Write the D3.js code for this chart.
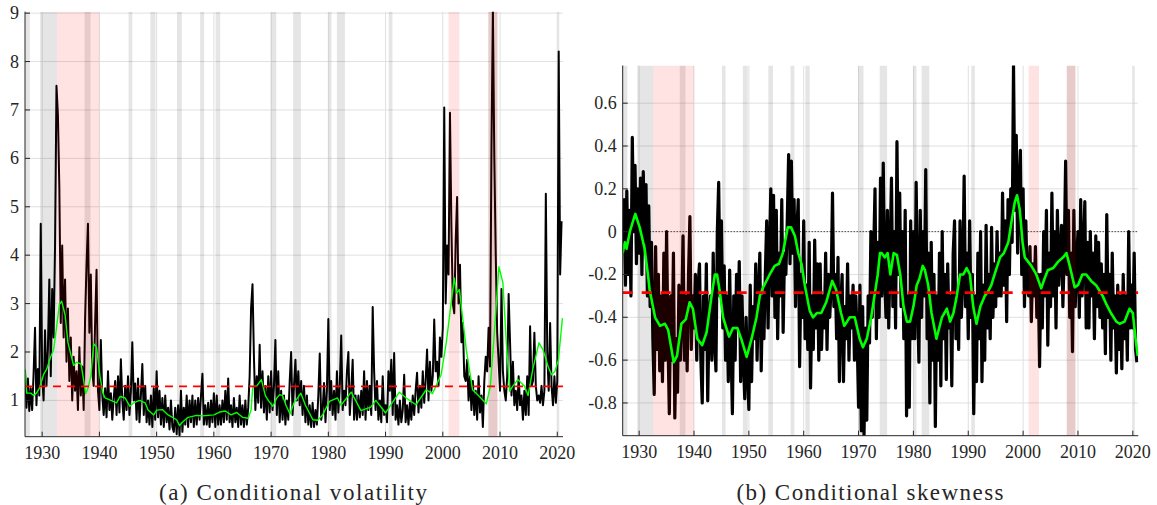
<!DOCTYPE html>
<html>
<head>
<meta charset="utf-8">
<script src="https://cdn.jsdelivr.net/npm/d3@7"></script>
<style>
  body { margin: 0; background: #fff; }
  svg text { font-family: "Liberation Serif", "DejaVu Serif", serif; fill: #262626; }
</style>
</head>
<body>
<div id="chart"></div>
<script>
// ---- data (quarterly values, first value = 1927 Q1) ----
var firstYear = 1927;
var step = 0.25;

// conditional volatility, black line
var volatility = [
  1.62, 0.85, 1.45, 0.78,   1.25, 0.8, 1.55, 2.5,    0.9, 1.65, 1.1, 4.65,
  1.5, 1.0, 2.45, 1.3,      2.05, 3.5, 1.5, 3.3,     2.3, 4.2, 7.5, 6.9,
  5.4, 2.6, 4.2, 2.3,       3.5, 1.8, 2.9, 1.4,      2.3, 1.0, 1.9, 1.2,
  1.6, 0.8, 2.1, 1.1,       1.7, 0.8, 2.7, 3.8,      4.65, 2.4, 3.6, 1.6,
  1.3, 2.6, 3.7, 1.2,       // 1939
  0.8, 2.25, 1.1, 0.7,      1.25, 0.65, 1.6, 0.8,    1.15, 0.6, 1.05, 1.4,
  0.7, 1.5, 0.75, 1.85,     1.0, 0.6, 1.3, 0.8,      1.5, 0.7, 1.2, 2.2,
  1.0, 1.35, 0.6, 1.45,     0.55, 1.1, 1.75, 0.7,    1.3, 0.55, 1.0, 0.5,
  1.1, 0.45, 1.25, 0.6,     // 1949
  1.6, 0.65, 1.2, 0.5,      1.05, 0.45, 1.1, 0.55,   0.85, 0.4, 1.0, 0.45,
  0.35, 0.85, 0.3, 0.9,     0.28, 1.2, 0.35, 0.85,   0.5, 1.1, 0.45, 1.0,
  0.55, 1.1, 0.45, 1.0,     0.5, 1.05, 0.6, 1.1,     1.55, 0.5, 0.9, 0.5,
  0.95, 0.45, 1.0, 0.55,    // 1959
  1.15, 0.45, 1.1, 0.5,     0.9, 0.5, 1.0, 0.55,     1.2, 0.6, 1.45, 0.55,
  0.9, 0.45, 1.05, 0.55,    0.85, 0.45, 1.1, 0.5,    0.9, 0.45, 1.0, 0.5,
  0.85, 1.5, 2.9, 3.4,      1.9, 0.8, 1.5, 0.95,     2.15, 0.85, 1.6, 0.75,
  1.3, 0.6, 1.5, 0.75,      // 1969
  1.6, 0.8, 1.3, 2.25,      0.7, 1.6, 0.55, 1.2,     0.6, 1.1, 0.5, 1.0,
  0.6, 1.4, 2.0, 0.7,       1.3, 1.84, 1.0, 1.6,     0.9, 1.4, 0.7, 1.3,
  0.55, 1.1, 0.5, 0.9,      0.45, 0.95, 0.45, 0.8,   0.5, 1.1, 1.97, 0.6,
  0.8, 1.36, 0.55, 1.2,     // 1979
  2.68, 0.8, 1.4, 0.7,      1.2, 0.6, 1.6, 0.75,     1.3, 2.34, 0.8, 1.2,
  0.9, 1.6, 2.0, 0.7,       1.2, 1.84, 0.6, 1.1,     0.6, 1.1, 0.65, 1.2,
  0.7, 1.6, 0.6, 1.4,       0.8, 1.3, 0.7, 2.93,     1.6, 0.8, 1.4, 0.6,
  1.0, 0.55, 1.5, 0.7,      // 1989
  0.9, 0.55, 1.6, 1.2,      1.84, 0.7, 1.98, 0.6,    0.9, 0.5, 1.0, 0.55,
  0.8, 1.53, 0.55, 0.9,     0.5, 0.95, 0.6, 1.1,     0.7, 1.2, 1.57, 0.75,
  1.3, 0.85, 1.6, 0.95,     1.4, 2.05, 1.0, 1.8,     1.2, 1.5, 2.67, 1.6,
  1.8, 1.3, 2.3, 1.9,       // 1999
  2.5, 7.05, 3.0, 4.2,      3.6, 6.94, 4.6, 3.0,     2.8, 4.3, 5.2, 3.0,
  3.8, 2.2, 2.6, 1.5,       1.4, 1.84, 1.0, 1.5,     0.8, 1.4, 0.7, 1.2,
  0.6, 1.5, 0.75, 1.1,      0.45, 1.4, 1.9, 1.6,     2.5, 1.7, 6.2, 9.05,
  6.0, 4.0, 2.4, 1.8,       // 2009
  1.2, 3.3, 1.6, 1.2,       1.0, 1.5, 3.2, 2.2,      1.1, 1.8, 0.9, 1.2,
  0.8, 1.5, 0.9, 1.1,       0.6, 1.2, 0.7, 1.5,      0.7, 2.53, 1.3, 1.4,
  2.4, 1.3, 1.0, 1.1,       0.95, 1.3, 0.9, 1.2,     5.27, 2.0, 1.2, 2.6,
  1.3, 0.9, 1.5, 0.95,      1.4, 8.21, 3.6, 4.7
];

// conditional skewness, black line
var skewness = [
  -0.1, 0.15, -0.25, 0.19,   -0.2, 0.1, -0.3, 0.44,    0.0, 0.31, -0.15, 0.2,
  -0.1, 0.25, -0.2, 0.28,    -0.05, 0.22, -0.3, 0.12,  -0.35, -0.05, -0.5, -0.76,
  -0.07, -0.55, -0.2, -0.65, -0.3, -0.7, -0.1, -0.6,   0.0, -0.5, -0.85, -0.3,
  -0.6, -0.1, -0.87, -0.5,   -0.75, -0.25, -0.6, -0.4, -0.02, -0.6, -0.3, -0.65,
  -0.2, 0.07, -0.55, -0.3,   // 1939
  -0.45, -0.2, -0.6, -0.25,  -0.15, -0.6, -0.8, -0.3,  -0.55, -0.15, -0.79, -0.4,
  -0.3, -0.6, -0.1, -0.5,    -0.65, 0.0, 0.23, -0.3,   0.05, -0.45, -0.16, -0.6,
  -0.3, -0.7, -0.18, -0.55,  -0.85, -0.3, -0.6, -0.2,  -0.45, -0.14, -0.7, -0.3,
  -0.6, -0.78, -0.4, -0.65,  // 1949
  -0.83, -0.25, -0.7, -0.35, -0.5, -0.15, -0.6, -0.3,  -0.1, -0.65, -0.3, -0.5,
  -0.2, 0.05, -0.45, -0.1,   0.2, -0.3, 0.17, -0.4,    0.1, -0.5, -0.1, -0.3,
  0.15, -0.47, -0.1, -0.2,   0.05, 0.36, -0.15, 0.33,  -0.1, 0.15, -0.35, 0.0,
  0.15, -0.63, -0.2, -0.4,   // 1959
  0.05, -0.5, -0.25, -0.55,  -0.05, -0.73, -0.3, -0.55, -0.04, -0.45, -0.15, -0.6,
  -0.15, -0.55, -0.3, -0.45, -0.1, -0.55, -0.2, -0.4,  -0.25, 0.18, -0.35, -0.2,
  -0.5, -0.12, -0.7, -0.35,  -0.2, -0.7, -0.35, -0.5,  -0.15, -0.6, -0.3, -0.45,
  -0.25, -0.6, -0.3, -0.5,   // 1969
  -0.82, -0.25, -0.93, -0.35, -0.95, -0.45, -0.88, -0.3, -0.52, 0.0, -0.4, -0.1,
  0.2, -0.5, -0.05, -0.4,    0.25, -0.3, 0.32, -0.2,   -0.4, 0.1, -0.45, -0.1,
  0.25, -0.35, 0.0, -0.45,   0.42, -0.2, 0.18, -0.35,  0.0, -0.5, 0.1, -0.86,
  -0.3, -0.82, 0.05, -0.5,   // 1979
  0.0, -0.5, 0.23, -0.3,     -0.61, 0.1, -0.4, 0.0,    -0.3, 0.29, -0.5, -0.1,
  -0.8, -0.05, -0.6, -0.2,   -0.91, -0.3, -0.6, -0.1,  -0.72, 0.0, -0.5, -0.2,
  -0.69, -0.15, -0.45, -0.3, -0.72, -0.1, 0.05, -0.5,  -0.3, -0.55, 0.05, -0.4,
  -0.2, 0.26, -0.35, -0.1,   // 1989
  -0.5, 0.05, -0.4, -0.2,    -0.85, -0.3, -0.7, -0.1,  -0.5, 0.0, -0.7, -0.25,
  -0.6, 0.03, -0.45, -0.2,   -0.5, 0.02, -0.4, -0.15,  -0.35, 0.0, -0.3, -0.1,
  -0.3, 0.18, -0.25, 0.05,   -0.42, 0.15, -0.2, 0.2,   -0.05, 0.78, 0.1, 0.45,
  -0.1, 0.2, 0.38, -0.2,     // 1999
  0.2, -0.35, 0.05, -0.25,   -0.3, -0.07, -0.42, -0.15, -0.3, -0.07, -0.4, -0.2,
  -0.63, -0.2, -0.45, 0.0,   -0.3, 0.1, -0.53, -0.1,   -0.35, 0.18, -0.3, 0.0,
  -0.45, 0.1, -0.25, -0.1,   0.03, -0.35, -0.1, 0.33,  -0.2, 0.1, -0.4, -0.1,
  -0.56, 0.1, -0.35, -0.15,  // 2009
  0.0, -0.4, 0.15, -0.3,     -0.1, 0.14, -0.45, -0.05, -0.45, 0.0, -0.3, -0.1,
  -0.5, -0.02, -0.35, -0.05, -0.4, -0.15, -0.45, -0.2, -0.57, 0.08, -0.4, -0.2,
  -0.6, -0.1, -0.45, -0.3,   -0.66, -0.25, -0.55, -0.3, -0.64, -0.2, -0.5, -0.3,
  -0.6, 0.0, -0.45, -0.25,   -0.45, -0.1, -0.55, -0.61
];

// smoothed series (green)
var volSmoothYears = [1927.0, 1927.3, 1928.0, 1928.5, 1929.0, 1929.5, 1930.3, 1930.8, 1931.5, 1932.0,
  1932.5, 1933.0, 1933.4, 1934.0, 1934.5, 1935.0, 1935.5, 1936.0, 1936.8, 1937.2, 1937.6, 1938.0,
  1938.5, 1939.0, 1939.5, 1940.1, 1940.6, 1941.0, 1942.0, 1943.0, 1943.6, 1944.5, 1945.3, 1946.0,
  1947.0, 1948.0, 1948.5, 1949.5, 1950.0, 1951.0, 1952.0, 1953.5, 1954.0, 1954.5, 1955.5, 1957.0,
  1958.0, 1960.0, 1961.0, 1962.0, 1963.0, 1964.0, 1965.0, 1966.0, 1966.5, 1966.8, 1967.5, 1968.3,
  1969.0, 1969.5, 1970.3, 1971.0, 1971.5, 1972.0, 1972.6, 1973.3, 1974.0, 1975.2, 1976.0, 1977.3,
  1978.1, 1979.0, 1980.2, 1981.6, 1982.2, 1984.0, 1985.7, 1987.4, 1988.3, 1990.0, 1992.4, 1993.6,
  1995.3, 1997.1, 1998.2, 1999.7, 2000.6, 2002.0, 2002.4, 2002.9, 2004.1, 2005.2, 2006.4, 2007.6,
  2008.3, 2009.0, 2009.8, 2010.5, 2011.1, 2011.7, 2012.2, 2013.1, 2014.3, 2014.9, 2015.7, 2016.8,
  2017.5, 2018.4, 2019.0, 2019.6, 2020.2, 2020.9];
var volSmooth = [1.65, 1.15, 1.15, 1.1, 1.15, 1.25, 1.55, 1.65, 1.9, 2.05,
  2.5, 2.98, 3.05, 2.77, 2.2, 1.95, 1.72, 1.79, 1.75, 1.45, 1.14, 1.25,
  1.5, 2.17, 2.1, 1.5, 1.15, 1.05, 1.0, 0.95, 1.08, 1.05, 0.88, 0.95,
  1.0, 0.95, 0.8, 0.7, 0.8, 0.81, 0.7, 0.6, 0.48, 0.55, 0.65, 0.69,
  0.68, 0.7, 0.76, 0.78, 0.7, 0.75, 0.65, 0.63, 0.8, 1.29, 1.3, 1.43,
  1.1, 1.0, 0.88, 1.05, 1.12, 1.1, 0.9, 0.72, 0.95, 1.15, 0.9, 0.6,
  0.59, 0.7, 0.98, 1.05, 0.9, 1.17, 0.79, 0.86, 1.0, 0.74, 1.17, 1.05,
  0.91, 1.22, 1.14, 1.53, 2.19, 3.53, 3.22, 3.29, 2.05, 1.22, 1.08, 0.93,
  1.29, 2.39, 3.76, 3.43, 2.19, 1.19, 1.29, 1.43, 1.29, 1.1, 1.63, 2.19,
  2.05, 1.7, 1.53, 1.6, 1.84, 2.7];

var skewSmoothYears = [1927.0, 1927.4, 1927.7, 1928.3, 1928.9, 1929.3, 1930.1, 1931.0, 1931.6, 1931.9,
  1932.9, 1933.8, 1934.7, 1935.3, 1935.9, 1936.3, 1936.9, 1937.7, 1938.5, 1939.2, 1939.8, 1940.6,
  1941.5, 1942.3, 1943.2, 1943.8, 1944.2, 1944.7, 1945.3, 1945.9, 1946.4, 1947.1, 1947.9, 1948.6,
  1949.6, 1950.5, 1951.4, 1952.0, 1952.6, 1953.8, 1954.7, 1955.5, 1956.2, 1957.1, 1957.7, 1958.4,
  1959.0, 1959.6, 1960.2, 1961.1, 1961.7, 1962.4, 1963.2, 1964.1, 1965.2, 1965.9, 1966.8, 1967.4,
  1968.4, 1969.3, 1970.2, 1970.8, 1971.5, 1972.3, 1972.9, 1973.5, 1973.9, 1974.2, 1974.8, 1975.3,
  1975.8, 1976.4, 1977.0, 1977.6, 1978.2, 1978.8, 1979.4, 1980.0, 1980.6, 1981.1, 1981.7, 1982.1,
  1982.7, 1983.3, 1984.2, 1985.2, 1986.1, 1986.7, 1987.3, 1987.9, 1988.5, 1989.1, 1989.7, 1990.3,
  1990.9, 1991.5, 1992.2, 1993.0, 1993.6, 1994.2, 1994.8, 1995.8, 1996.5, 1997.3, 1997.9, 1998.5,
  1998.9, 1999.4, 1999.9, 2000.3, 2000.9, 2001.5, 2002.4, 2003.3, 2003.9, 2004.5, 2005.5, 2006.4,
  2007.3, 2007.9, 2008.5, 2009.4, 2010.0, 2010.8, 2011.5, 2012.4, 2013.3, 2014.5, 2015.2, 2016.0,
  2017.0, 2017.6, 2018.5, 2019.4, 2020.0, 2020.5, 2020.9];
var skewSmooth = [-0.1, -0.05, -0.08, 0.0, 0.05, 0.083, 0.02, -0.08, -0.2, -0.27,
  -0.4, -0.44, -0.43, -0.46, -0.55, -0.61, -0.58, -0.43, -0.41, -0.33, -0.36, -0.5,
  -0.53, -0.47, -0.3, -0.2, -0.2, -0.28, -0.4, -0.45, -0.49, -0.45, -0.45, -0.5,
  -0.585, -0.5, -0.4, -0.3, -0.26, -0.2, -0.16, -0.15, -0.1, 0.02, 0.02, -0.02,
  -0.1, -0.15, -0.25, -0.37, -0.4, -0.38, -0.38, -0.33, -0.23, -0.27, -0.38, -0.44,
  -0.4, -0.4, -0.5, -0.54, -0.5, -0.4, -0.3, -0.2, -0.1, -0.1, -0.12, -0.1,
  -0.2, -0.1, -0.11, -0.2, -0.35, -0.42, -0.42, -0.35, -0.25, -0.22, -0.16, -0.18,
  -0.25, -0.38, -0.5, -0.4, -0.36, -0.42, -0.38, -0.3, -0.2, -0.2, -0.17, -0.2,
  -0.35, -0.43, -0.35, -0.3, -0.28, -0.25, -0.2, -0.12, -0.1, -0.05, 0.05, 0.14,
  0.17, 0.1, -0.05, -0.12, -0.14, -0.16, -0.2, -0.265, -0.22, -0.18, -0.17, -0.14,
  -0.12, -0.1, -0.16, -0.26, -0.25, -0.2, -0.2, -0.23, -0.25, -0.3, -0.34, -0.38,
  -0.42, -0.43, -0.42, -0.36, -0.38, -0.5, -0.58];

// sample means (red dashed)
var volMean = 1.29;
var skewMean = -0.285;

// recessions (grey) and other episodes (pink)
var greyBands = [[1926.9, 1927.85], [1929.65, 1932.6], [1937.4, 1938.45], [1945.1, 1945.75],
  [1948.9, 1949.8], [1953.55, 1954.4], [1957.6, 1958.3], [1960.3, 1961.1], [1969.95, 1970.9],
  [1973.85, 1975.2], [1980.0, 1980.55], [1981.5, 1982.9], [1990.55, 1991.2], [2007.95, 2009.5],
  [2020.1, 2020.35]];
var pinkBands = [[1932.6, 1940.0], [2001.0, 2002.9], [2007.95, 2009.6]];

var yearTicks = [1930, 1940, 1950, 1960, 1970, 1980, 1990, 2000, 2010, 2020];
var volTicks = [1, 2, 3, 4, 5, 6, 7, 8, 9];
var skewTicks = [-0.8, -0.6, -0.4, -0.2, 0, 0.2, 0.4, 0.6];

// ---- drawing ----
var svg = d3.select("#chart").append("svg").attr("width", 1157).attr("height", 505);
var axisColor = "#262626";
var gridColor = "#e0e0e0";

function toPoints(values) {
  return values.map(function(v, i){ return [firstYear + i * step, v]; });
}
function pairs(years, values) {
  return years.map(function(y, i){ return [y, values[i]]; });
}

function drawPanel(o) {
  var x = d3.scaleLinear().domain([1927, 2021]).range([o.left, o.right]);
  var y = d3.scaleLinear().domain(o.yDomain).range([o.bottom, o.top]);
  var g = svg.append("g");

  g.append("clipPath").attr("id", o.id + "_clip")
    .append("rect").attr("x", o.left).attr("y", o.top)
    .attr("width", o.right - o.left).attr("height", o.bottom - o.top);

  var plot = g.append("g").attr("clip-path", "url(#" + o.id + "_clip)");

  // grid
  plot.selectAll(".vgrid").data(yearTicks).enter().append("line")
    .attr("x1", function(d){ return x(d); }).attr("x2", function(d){ return x(d); })
    .attr("y1", o.top).attr("y2", o.bottom)
    .style("stroke", gridColor).style("stroke-width", 1);
  plot.selectAll(".hgrid").data(o.ticks).enter().append("line")
    .attr("x1", o.left).attr("x2", o.right)
    .attr("y1", function(d){ return y(d); }).attr("y2", function(d){ return y(d); })
    .style("stroke", gridColor).style("stroke-width", 1);

  var line = d3.line().x(function(d){ return x(d[0]); }).y(function(d){ return y(d[1]); });

  if (o.zeroLine) {
    plot.append("line").attr("x1", o.left).attr("x2", o.right)
      .attr("y1", y(0)).attr("y2", y(0))
      .style("stroke", "#000").style("stroke-width", 1).style("stroke-dasharray", "1,2");
  }

  // raw series
  plot.append("path").datum(toPoints(o.raw)).attr("d", line)
    .style("fill", "none").style("stroke", "#000").style("stroke-width", o.rawWidth)
    .style("stroke-linejoin", "round");

  // shading on top of the raw line
  plot.selectAll(".grey").data(greyBands).enter().append("rect")
    .attr("x", function(d){ return x(d[0]); }).attr("width", function(d){ return x(d[1]) - x(d[0]); })
    .attr("y", o.top).attr("height", o.bottom - o.top)
    .style("fill", "rgba(0,0,0,0.1)");
  plot.selectAll(".pink").data(pinkBands).enter().append("rect")
    .attr("x", function(d){ return x(d[0]); }).attr("width", function(d){ return x(d[1]) - x(d[0]); })
    .attr("y", o.top).attr("height", o.bottom - o.top)
    .style("fill", "rgba(255,0,0,0.11)");

  // smoothed series
  plot.append("path").datum(pairs(o.smoothYears, o.smooth)).attr("d", line)
    .style("fill", "none").style("stroke", "#00ff00").style("stroke-width", o.smoothWidth)
    .style("stroke-linejoin", "round");

  // mean
  plot.append("line").attr("x1", o.left).attr("x2", o.right)
    .attr("y1", y(o.mean)).attr("y2", y(o.mean))
    .style("stroke", "#ff0000").style("stroke-width", o.meanWidth)
    .style("stroke-dasharray", o.dash);

  // axes
  g.append("line").attr("x1", o.left).attr("x2", o.left).attr("y1", o.top).attr("y2", o.bottom)
    .style("stroke", axisColor).style("stroke-width", 1);
  g.append("line").attr("x1", o.left).attr("x2", o.right).attr("y1", o.bottom).attr("y2", o.bottom)
    .style("stroke", axisColor).style("stroke-width", 1);

  g.selectAll(".xt").data(yearTicks).enter().append("line")
    .attr("x1", function(d){ return x(d); }).attr("x2", function(d){ return x(d); })
    .attr("y1", o.bottom).attr("y2", o.bottom - 5)
    .style("stroke", axisColor).style("stroke-width", 1);
  g.selectAll(".yt").data(o.ticks).enter().append("line")
    .attr("x1", o.left).attr("x2", o.left + 5)
    .attr("y1", function(d){ return y(d); }).attr("y2", function(d){ return y(d); })
    .style("stroke", axisColor).style("stroke-width", 1);

  g.selectAll(".xl").data(yearTicks).enter().append("text")
    .attr("x", function(d){ return x(d); }).attr("y", o.bottom + 22)
    .attr("text-anchor", "middle").style("font-size", "18px")
    .text(function(d){ return d; });
  g.selectAll(".yl").data(o.ticks).enter().append("text")
    .attr("x", o.left - 6).attr("y", function(d){ return y(d) + 6; })
    .attr("text-anchor", "end").style("font-size", "18px")
    .text(o.fmt);

  g.append("text").attr("x", o.captionX).attr("y", 500)
    .attr("text-anchor", "middle").style("font-size", "23px")
    .attr("textLength", o.captionWidth).attr("lengthAdjust", "spacing")
    .text(o.caption);
}

drawPanel({
  id: "vol", left: 25, right: 563, top: 11.7, bottom: 436.7,
  yDomain: [0.25, 9.03], ticks: volTicks,
  fmt: function(d){ return d; },
  raw: volatility, rawWidth: 2.0,
  smoothYears: volSmoothYears, smooth: volSmooth, smoothWidth: 1.4,
  mean: volMean, meanWidth: 1.8, dash: "8,6",
  zeroLine: false,
  caption: "(a) Conditional volatility", captionX: 293, captionWidth: 268
});

drawPanel({
  id: "skew", left: 622.7, right: 1138.3, top: 65.5, bottom: 435.7,
  yDomain: [-0.953, 0.776], ticks: skewTicks,
  fmt: function(d){ return d === 0 ? "0" : d.toFixed(1); },
  raw: skewness, rawWidth: 3.2,
  smoothYears: skewSmoothYears, smooth: skewSmooth, smoothWidth: 2.6,
  mean: skewMean, meanWidth: 2.6, dash: "10,9",
  zeroLine: true,
  caption: "(b) Conditional skewness", captionX: 870, captionWidth: 267
});
</script>
</body>
</html>
